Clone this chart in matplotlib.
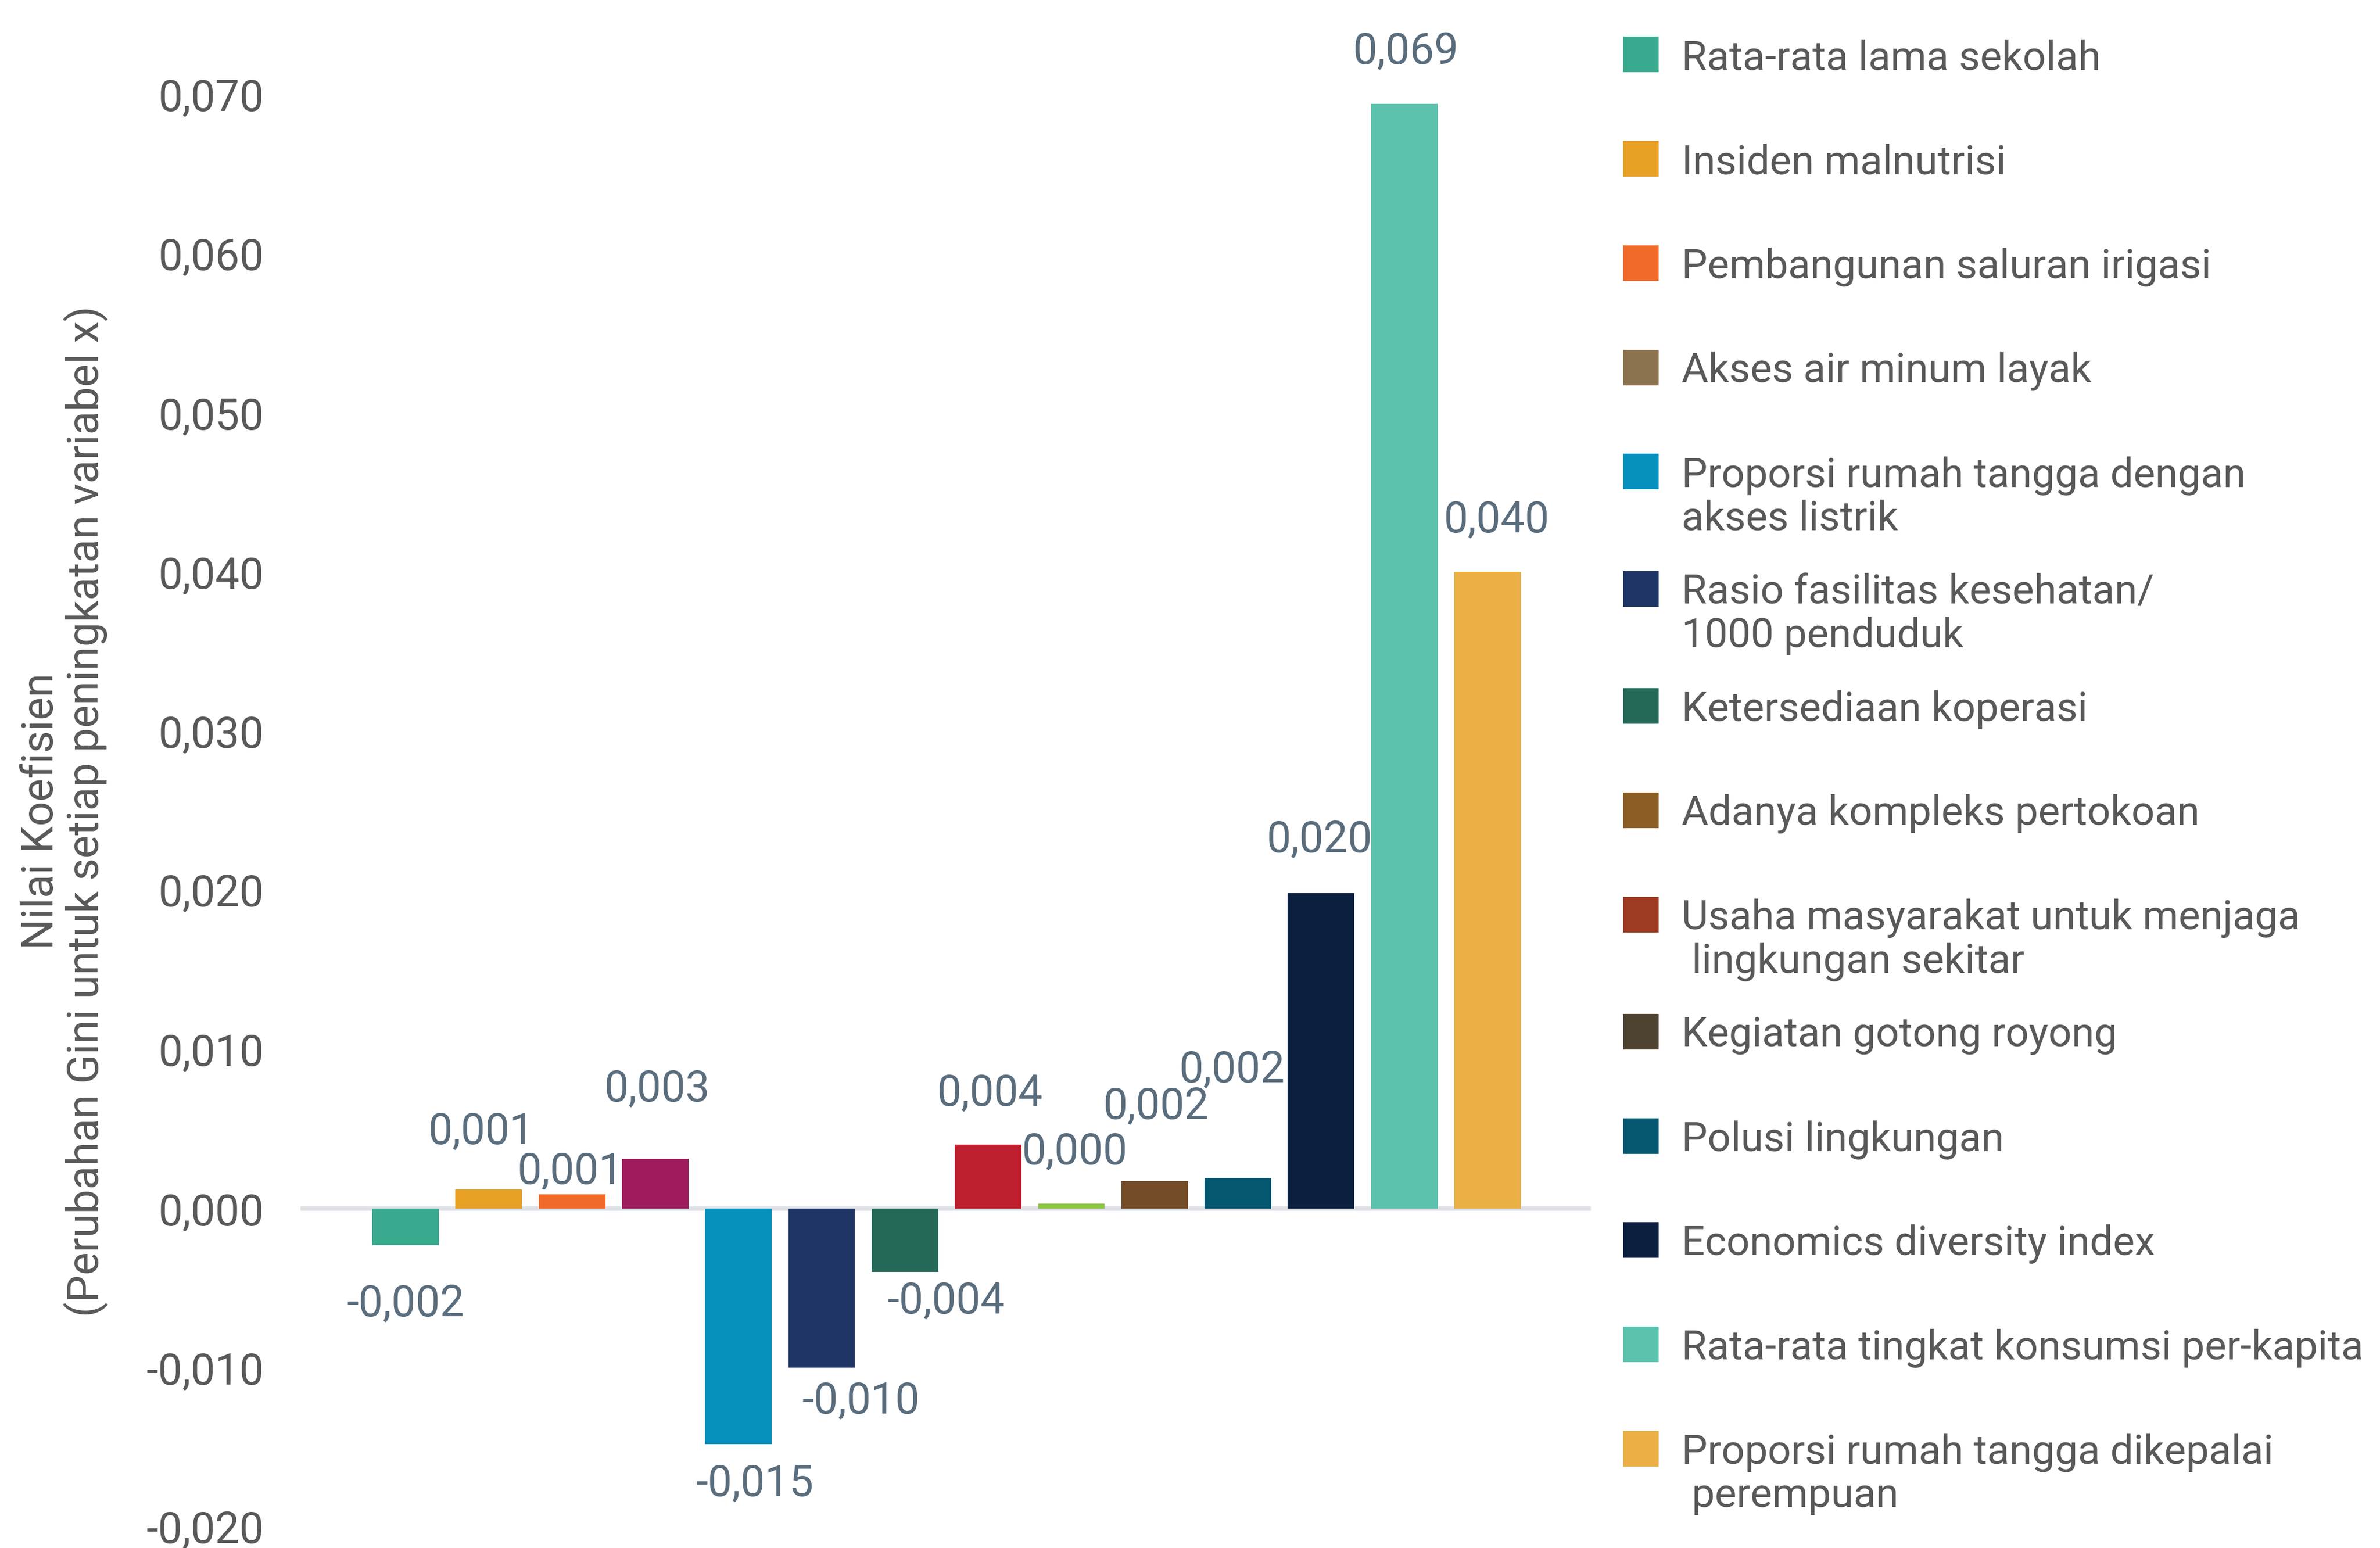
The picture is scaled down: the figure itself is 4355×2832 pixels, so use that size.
import numpy as np
import matplotlib
matplotlib.use('Agg')
import matplotlib.pyplot as plt
from matplotlib.patches import Rectangle

plt.rcParams['font.family'] = ['Roboto', 'DejaVu Sans']

# Daten
labels = ['Rata-rata lama sekolah',
          'Insiden malnutrisi',
          'Pembangunan saluran irigasi',
          'Akses air minum layak',
          'Proporsi rumah tangga dengan\nakses listrik',
          'Rasio fasilitas kesehatan/\n1000 penduduk',
          'Ketersediaan koperasi',
          'Adanya kompleks pertokoan',
          'Usaha masyarakat untuk menjaga\n lingkungan sekitar',
          'Kegiatan gotong royong',
          'Polusi lingkungan',
          'Economics diversity index',
          'Rata-rata tingkat konsumsi per-kapita',
          'Proporsi rumah tangga dikepalai\n perempuan']
values = [-0.0023, 0.0012, 0.0009, 0.0031, -0.0148, -0.0100, -0.0040,
          0.0040, 0.0003, 0.0017, 0.0019, 0.0198, 0.0694, 0.0400]
bar_colors = ['#3aaa8f', '#e8a025', '#f26a2a', '#9e1c5e', '#0590bd', '#1f3566',
              '#246857', '#bf1e2e', '#8dc63f', '#744c28', '#05566f', '#0b1f3f',
              '#5bc2ad', '#eab045']
legend_colors = ['#3aaa8f', '#e8a025', '#f26a2a', '#8b7350', '#0590bd', '#1f3566',
                 '#246857', '#8a5e24', '#9c3a22', '#4e4331', '#05566f', '#0b1f3f',
                 '#5bc2ad', '#eab045']
yticks = [-0.02, -0.01, 0.0, 0.01, 0.02, 0.03, 0.04, 0.05, 0.06, 0.07]

# Verschiebung der Beschriftungen (Punkte)
lab_dx = [0, -3.3, -0.7, 0.7, 7.3, 17.3, 18, 0.7, 1.3, 0.7, -2.7, -0.7, 0.7, 4]
lab_dy = [-26, 25.3, 10, 30.7, -17.3, -14.7, -12.7, 22.7, 22.7, 32.7, 47.3, 23.3, 22.7, 22.7]

grau = '#595959'
blaugrau = '#5a6d7d'

fig = plt.figure(figsize=(4355 / 300, 2832 / 300), dpi=300)
ax = fig.add_axes([0.1263, 0.0137, 0.5421, 0.9255])

x = np.arange(len(values))
ax.axhline(0, color='#dde1e6', lw=1.9, zorder=1)
ax.bar(x, values, width=0.8, color=bar_colors, zorder=2)

for i, v in enumerate(values):
    txt = f'{v:.3f}'.replace('.', ',')
    ax.annotate(txt, (x[i], v), xytext=(lab_dx[i], lab_dy[i]), textcoords='offset points',
                ha='center', va='center', fontsize=19, color=blaugrau, annotation_clip=False)

ax.set_xlim(-1.26, 14.24)
ax.set_ylim(-0.02, 0.07)
ax.set_yticks(yticks)
ax.set_yticklabels([f'{t:.3f}'.replace('.', ',') for t in yticks], fontsize=19, color=grau)
ax.tick_params(axis='y', length=0, pad=16)
ax.set_xticks([])
for s in ax.spines.values():
    s.set_visible(False)

fig.text(0.027, 0.476, 'Nilai Koefisien\n(Perubahan Gini untuk setiap peningkatan variabel x)',
         rotation=90, ha='center', va='center', fontsize=19, color=grau, linespacing=1.05)

# Legende
y = 36.0
for lab, col in zip(labels, legend_colors):
    fig.patches.append(Rectangle((1070 / 1568, 1 - (y + 11) / 1020), 22 / 1568, 22 / 1020,
                                 transform=fig.transFigure, color=col))
    for k, zeile in enumerate(lab.split('\n')):
        fig.text(1108 / 1568, 1 - (y + 2.5 + k * 28.5) / 1020, zeile, ha='left', va='center',
                 fontsize=18, color=grau)
    y += 68.7 + 8.5 * lab.count('\n')

fig.savefig('out.png', dpi=300)
